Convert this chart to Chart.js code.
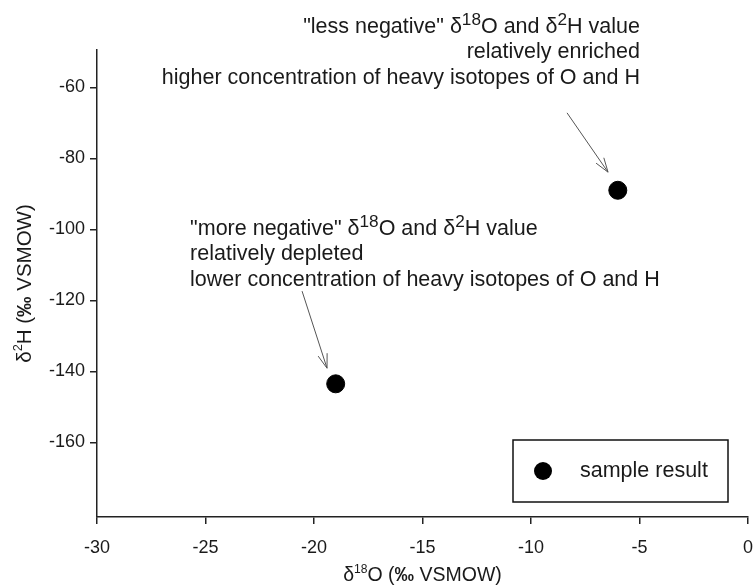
<!DOCTYPE html>
<html>
<head>
<meta charset="utf-8">
<script src="https://cdn.jsdelivr.net/npm/chart.js@4"></script>
<style>
html,body{margin:0;padding:0;background:#fff;}
canvas{display:block;}
</style>
</head>
<body>
<canvas id="c" width="753" height="585"></canvas>
<script>
// ---- data ----
const seriesLabel = 'sample result';
const xValues = [-6, -19];
const yValues = [-89, -143.5];
const xTickValues = [-30, -25, -20, -15, -10, -5, 0];
const yTickValues = [-160, -140, -120, -100, -80, -60];
const xRange = [-30, 0];
const yRange = [-181, -49.5];

// annotation anchors (data units)
const noteTopLines = [
  [{t:'"less negative" '},{t:'\u03B4'},{t:'18',sup:true},{t:'O and '},{t:'\u03B4'},{t:'2',sup:true},{t:'H value'}],
  [{t:'relatively enriched'}],
  [{t:'higher concentration of heavy isotopes of O and H'}]
];
const noteBottomLines = [
  [{t:'"more negative" '},{t:'\u03B4'},{t:'18',sup:true},{t:'O and '},{t:'\u03B4'},{t:'2',sup:true},{t:'H value'}],
  [{t:'relatively depleted'}],
  [{t:'lower concentration of heavy isotopes of O and H'}]
];
const noteTopAnchor = {x: -4.98, y: -57.4};      // right edge, last line centre
const noteBottomAnchor = {x: -25.71, y: -99.9};  // left edge, first line centre
const arrowTop = {x1: -8.34, y1: -67.2, x2: -6.45, y2: -83.9};
const arrowBottom = {x1: -20.55, y1: -117.4, x2: -19.4, y2: -139.1};

const xTitle = [{t:'\u03B4'},{t:'18',sup:true},{t:'O ('},{t:'\u2030',bold:true},{t:' VSMOW)'}];
const yTitle = [{t:'\u03B4'},{t:'2',sup:true},{t:'H ('},{t:'\u2030',bold:true},{t:' VSMOW)'}];

const FONT = '"Liberation Sans", Arial, sans-serif';
const TEXT = '#1a1a1a';

function fontStr(size, bold){ return (bold?'bold ':'') + size + 'px ' + FONT; }
function richWidth(ctx, segs, size, sf){
  let w = 0;
  segs.forEach(s=>{ ctx.font = fontStr(s.sup?size*sf:size, s.bold); w += ctx.measureText(s.t).width; });
  return w;
}
function drawRich(ctx, segs, x, y, size, align, sf){
  const w = richWidth(ctx, segs, size, sf);
  let cx = align==='right' ? x - w : (align==='center' ? x - w/2 : x);
  ctx.textBaseline = 'middle';
  ctx.textAlign = 'left';
  segs.forEach(s=>{
    const sz = s.sup ? size*sf : size;
    ctx.font = fontStr(sz, s.bold);
    ctx.fillText(s.t, cx, s.sup ? y - size*0.3 : y);
    cx += ctx.measureText(s.t).width;
  });
}
function drawArrow(ctx, x1, y1, x2, y2){
  ctx.save();
  ctx.strokeStyle = '#555';
  ctx.lineWidth = 1;
  ctx.beginPath(); ctx.moveTo(x1,y1); ctx.lineTo(x2,y2); ctx.stroke();
  const a = Math.atan2(y2-y1, x2-x1), L = 15, s = 0.32;
  ctx.beginPath();
  ctx.moveTo(x2 - L*Math.cos(a-s), y2 - L*Math.sin(a-s));
  ctx.lineTo(x2, y2);
  ctx.lineTo(x2 - L*Math.cos(a+s), y2 - L*Math.sin(a+s));
  ctx.stroke();
  ctx.restore();
}

const decor = {
  id: 'decor',
  afterDraw(chart){
    const ctx = chart.ctx, xs = chart.scales.x, ys = chart.scales.y, ca = chart.chartArea;
    ctx.save();
    ctx.fillStyle = TEXT;
    // axis titles
    drawRich(ctx, xTitle, (ca.left+ca.right)/2, 576, 19.5, 'center', 0.62);
    ctx.save();
    ctx.translate(25, (ca.top+ca.bottom)/2);
    ctx.rotate(-Math.PI/2);
    drawRich(ctx, yTitle, 0, 0, 20.5, 'center', 0.62);
    ctx.restore();
    // annotations
    const lh = 25.5, fs = 21.5;
    let tx = xs.getPixelForValue(noteTopAnchor.x), ty = ys.getPixelForValue(noteTopAnchor.y);
    noteTopLines.forEach((l,i)=>drawRich(ctx, l, tx, ty - (noteTopLines.length-1-i)*lh, fs, 'right', 0.8));
    tx = xs.getPixelForValue(noteBottomAnchor.x); ty = ys.getPixelForValue(noteBottomAnchor.y);
    noteBottomLines.forEach((l,i)=>drawRich(ctx, l, tx, ty + i*lh, fs, 'left', 0.8));
    [arrowTop, arrowBottom].forEach(a=>drawArrow(ctx,
      xs.getPixelForValue(a.x1), ys.getPixelForValue(a.y1),
      xs.getPixelForValue(a.x2), ys.getPixelForValue(a.y2)));
    // legend box
    const bx = ca.right - 235, bw = 215, bh = 62, by = ca.bottom - 15 - bh;
    ctx.strokeStyle = '#111'; ctx.lineWidth = 1.5;
    ctx.strokeRect(bx, by, bw, bh);
    ctx.beginPath(); ctx.arc(bx + 30, by + bh/2, 9, 0, Math.PI*2); ctx.fillStyle = '#000'; ctx.fill();
    ctx.fillStyle = TEXT;
    ctx.font = fontStr(21.5); ctx.textBaseline = 'middle'; ctx.textAlign = 'left';
    ctx.fillText(chart.data.datasets[0].label, bx + 67, by + bh/2);
    ctx.restore();
  }
};

new Chart(document.getElementById('c'), {
  type: 'scatter',
  data: {
    datasets: [{
      label: seriesLabel,
      data: xValues.map((x,i)=>({x:x, y:yValues[i]})),
      pointRadius: 9, pointHoverRadius: 9,
      backgroundColor: '#000', borderColor: '#000',
      clip: false
    }]
  },
  options: {
    responsive: false, animation: false,
    events: [],
    layout: {autoPadding: false, padding: {top: 50, right: 5, left: 0, bottom: 0}},
    plugins: {legend: {display: false}, tooltip: {enabled: false}},
    scales: {
      x: {
        type: 'linear', min: xRange[0], max: xRange[1],
        afterBuildTicks: s => { s.ticks = xTickValues.map(v=>({value:v})); },
        afterFit: s => { s.height = 68; s.paddingRight = 0; s.paddingLeft = 0; },
        ticks: {font: {family: FONT, size: 18}, color: TEXT, padding: 13, maxRotation: 0, autoSkip: false},
        grid: {drawOnChartArea: false, drawTicks: true, tickLength: 7, color: '#222', lineWidth: 1.5},
        border: {display: true, color: '#222', width: 1.5}
      },
      y: {
        type: 'linear', min: yRange[0], max: yRange[1],
        afterBuildTicks: s => { s.ticks = yTickValues.map(v=>({value:v})); },
        afterFit: s => { s.width = 97; s.paddingTop = 0; s.paddingBottom = 0; },
        ticks: {font: {family: FONT, size: 18}, color: TEXT, padding: 5, autoSkip: false},
        grid: {drawOnChartArea: false, drawTicks: true, tickLength: 7, color: '#222', lineWidth: 1.5},
        border: {display: true, color: '#222', width: 1.5}
      }
    }
  },
  plugins: [decor]
});
</script>
</body>
</html>
